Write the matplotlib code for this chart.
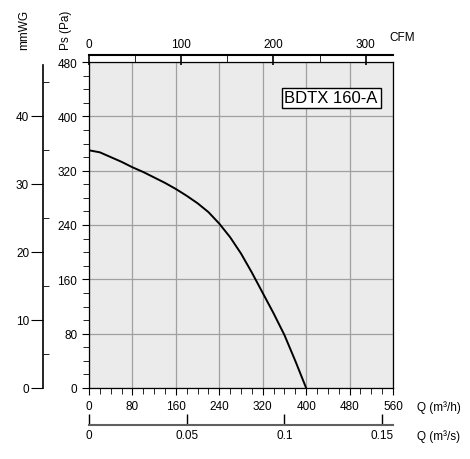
import matplotlib
matplotlib.use("Agg")
import matplotlib.pyplot as plt
from matplotlib.ticker import MultipleLocator

q_m3h = [0, 20, 40, 60, 80, 100, 120, 140, 160, 180, 200, 220, 240, 260, 280, 300, 320, 340, 360, 380, 400]
ps_pa = [350, 347, 340, 333, 325, 318, 310, 302, 293, 283, 272, 259, 242, 222, 198, 170, 140, 110, 78, 40, 0]
title = "BDTX 160-A"

plt.rcParams['font.family'] = ['Liberation Sans', 'DejaVu Sans']
fig = plt.figure(figsize=(4.7, 4.6), dpi=100)
L, R, B, T = 89/470, 393/470, 1-389/460, 1-63/460
ax = fig.add_axes([L, B, R-L, T-B])
ax.set_facecolor('#ebebeb')
ax.set_xlim(0, 560); ax.set_ylim(0, 480)
ax.xaxis.set_major_locator(MultipleLocator(80))
ax.xaxis.set_minor_locator(MultipleLocator(20))
ax.yaxis.set_major_locator(MultipleLocator(80))
ax.yaxis.set_minor_locator(MultipleLocator(20))
ax.grid(True, which='major', color='#a0a0a0', lw=0.9)
ax.tick_params(labelsize=8.5, length=5, direction='out')
ax.tick_params(which='minor', length=4)
ax.plot(q_m3h, ps_pa, color='black', lw=1.4)
ax.text(0.95, 0.89, title, transform=ax.transAxes, ha='right', va='center', fontsize=12,
        bbox=dict(facecolor='white', edgecolor='black', pad=2))
for s in ax.spines.values():
    s.set_linewidth(0.9)
fig.text(417/470, 1-408/460, 'Q (m³/h)', fontsize=8.5, va='center')

# CFM axis
axc = fig.add_axes([L, 1-56/460, R-L, 0.001])
axc.set_xlim(0, 560/1.699)
for k in ['left', 'right', 'bottom']:
    axc.spines[k].set_visible(False)
axc.spines['top'].set_linewidth(1.5)
axc.set_yticks([])
axc.xaxis.tick_top()
axc.xaxis.set_major_locator(MultipleLocator(100))
axc.xaxis.set_minor_locator(MultipleLocator(50))
axc.tick_params(axis='x', direction='in', length=7, width=1.2, labelsize=8.5, pad=3)
axc.tick_params(axis='x', which='minor', direction='in', length=5)
fig.text(389/470, 1-38/460, 'CFM', fontsize=8.5, va='center')

# m3/s axis
axs = fig.add_axes([L, 1-426/460, R-L, 0.001])
axs.set_xlim(0, 560/3600)
for k in ['left', 'right', 'top']:
    axs.spines[k].set_visible(False)
axs.spines['bottom'].set_linewidth(1.5)
axs.spines['bottom'].set_color('#606060')
axs.set_yticks([])
axs.set_xticks([0, 0.05, 0.1, 0.15])
axs.set_xticklabels(['0', '0.05', '0.1', '0.15'])
axs.tick_params(axis='x', direction='in', length=8, width=1.0, labelsize=8.5, pad=3)
fig.text(417/470, 1-437/460, 'Q (m³/s)', fontsize=8.5, va='center')

# mmWG axis
axm = fig.add_axes([43/470, B, 0.001, (389-66)/460])
for k in ['right', 'top', 'bottom']:
    axm.spines[k].set_visible(False)
axm.spines['left'].set_linewidth(1.2)
axm.set_xticks([])
axm.yaxis.set_major_locator(MultipleLocator(10))
axm.yaxis.set_minor_locator(MultipleLocator(5))
axm.tick_params(axis='y', direction='out', length=9, labelsize=8.5, pad=1)
axm.tick_params(axis='y', which='minor', direction='in', length=4)
axm.set_ylim(0, (389-66)/6.8)

fig.text(24/470, 1-30/460, 'mmWG', rotation=90, fontsize=8.5, ha='center', va='center')
fig.text(66/470, 1-30/460, 'Ps (Pa)', rotation=90, fontsize=8.5, ha='center', va='center')
fig.savefig('out.png', dpi=100)
